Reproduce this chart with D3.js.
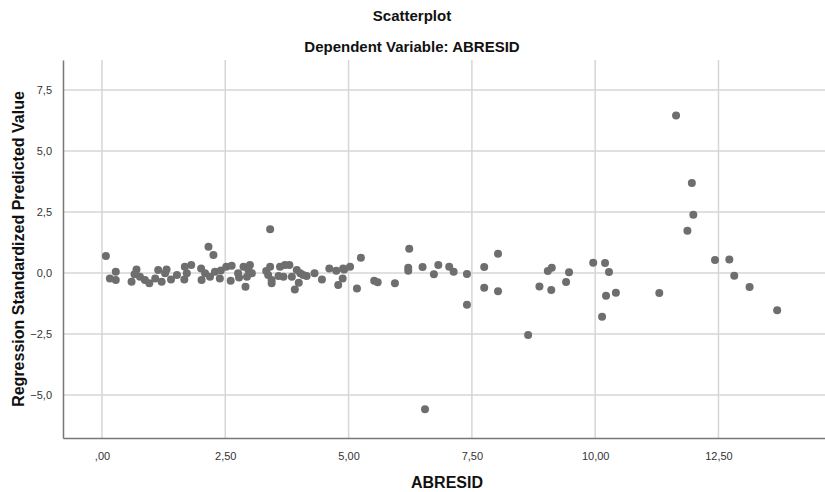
<!DOCTYPE html>
<html>
<head>
<meta charset="utf-8">
<script src="https://cdn.jsdelivr.net/npm/d3@7"></script>
<style>
  body { margin: 0; background: #fff; }
  svg { display: block; }
  .tick text { font-family: "Liberation Sans Narrow", "Arial Narrow", "Liberation Sans", sans-serif; font-size: 11px; fill: #333; }
</style>
</head>
<body>
<script>
// ABRESID (x) against standardized predicted value (y)
const abresid = [
  0.08, 0.28, 0.16, 0.28, 0.70, 0.66, 0.60, 0.77, 0.87, 0.96, 1.08, 1.14, 1.21, 1.28, 1.31, 1.40, 1.52, 1.67,
  1.68, 1.81, 1.72, 2.01, 2.02, 2.09, 2.16, 2.26, 2.19, 2.29, 2.39, 2.41, 2.52, 2.63, 2.61, 2.76, 2.78, 2.87,
  3.00, 2.97, 2.94, 3.04, 2.91, 3.41, 3.41, 3.37, 3.44, 3.44, 3.33, 3.61, 3.71, 3.80, 3.58, 3.68, 3.85, 3.95,
  4.02, 4.08, 3.99, 3.91, 4.15, 4.31, 4.46, 4.61, 4.75, 4.89, 4.88, 4.79, 4.91, 5.03, 5.25, 5.17, 5.52, 5.59,
  5.94, 6.23, 6.21, 6.21, 6.50, 6.73, 6.82, 7.04, 7.13, 7.40, 7.40, 7.75, 7.75, 8.03, 8.03, 6.55,
  8.64, 8.87, 9.04, 9.12, 9.11, 9.41, 9.47, 9.96, 10.20, 10.28, 10.14, 10.22, 10.42, 11.30,
  11.64, 11.96, 11.99, 11.87, 12.43, 12.72, 12.82, 13.13, 13.69
]
const predicted = [
  0.70, 0.05, -0.22, -0.29, 0.15, -0.05, -0.36, -0.15, -0.29, -0.42, -0.22, 0.12, -0.36, -0.01, 0.15, -0.26, -0.08, -0.26,
  0.26, 0.33, -0.01, 0.19, -0.29, -0.01, 1.08, 0.74, -0.15, 0.05, -0.22, 0.10, 0.26, 0.30, -0.32, -0.01, -0.18, 0.26,
  0.33, 0.12, -0.15, -0.01, -0.56, 1.79, 0.26, -0.08, -0.29, -0.42, 0.08, 0.26, 0.33, 0.33, -0.12, -0.15, -0.15, 0.12,
  -0.01, -0.08, -0.40, -0.67, -0.12, -0.01, -0.26, 0.19, 0.09, 0.19, -0.22, -0.49, 0.15, 0.26, 0.63, -0.63, -0.32, -0.38,
  -0.42, 1.00, 0.22, 0.09, 0.25, -0.05, 0.33, 0.26, 0.05, -0.04, -1.30, 0.25, -0.60, 0.79, -0.75, -5.58,
  -2.54, -0.55, 0.08, 0.22, -0.70, -0.37, 0.03, 0.42, 0.41, 0.04, -1.79, -0.93, -0.81, -0.82,
  6.46, 3.69, 2.39, 1.73, 0.53, 0.55, -0.11, -0.57, -1.52
]
const xTicks = [0, 2.5, 5, 7.5, 10, 12.5]
const yTicks = [-5, -2.5, 0, 2.5, 5, 7.5]

const w = 825, h = 492
const plotLeft = 63, plotRight = 826, plotTop = 60, plotBottom = 438

const svg = d3.select("body").append("svg")
  .attr("width", w)
  .attr("height", h)

const x = d3.scaleLinear().domain([-0.79, 14.68]).range([plotLeft, plotRight])
const y = d3.scaleLinear().domain([-6.76, 8.73]).range([plotBottom, plotTop])

const comma = d3.formatLocale({ decimal: ",", thousands: ".", grouping: [3], currency: ["", ""] })
const fmtX = v => v === 0 ? ",00" : comma.format(".2f")(v)
const fmtY = comma.format(".1f")

// grid
svg.append("g").selectAll("line").data(xTicks).join("line")
  .attr("x1", d => x(d)).attr("x2", d => x(d))
  .attr("y1", plotTop).attr("y2", plotBottom)
  .attr("stroke", "#d6d6d6").attr("stroke-width", 1.5)
svg.append("g").selectAll("line").data(yTicks).join("line")
  .attr("x1", plotLeft).attr("x2", plotRight)
  .attr("y1", d => y(d)).attr("y2", d => y(d))
  .attr("stroke", "#d6d6d6").attr("stroke-width", 1.5)

// axes
const xAxis = svg.append("g")
  .attr("transform", `translate(0,${plotBottom})`)
  .call(d3.axisBottom(x).tickValues(xTicks).tickFormat(fmtX).tickSize(0).tickPadding(14))
const yAxis = svg.append("g")
  .attr("transform", `translate(${plotLeft},0)`)
  .call(d3.axisLeft(y).tickValues(yTicks).tickFormat(fmtY).tickSize(0).tickPadding(11))
xAxis.select(".domain").attr("stroke", "#777").attr("stroke-width", 1.5)
yAxis.select(".domain").attr("stroke", "#777").attr("stroke-width", 1.5)

// points
svg.append("g").selectAll("circle")
  .data(abresid.map((v, i) => [v, predicted[i]]))
  .join("circle")
  .attr("cx", d => x(d[0]))
  .attr("cy", d => y(d[1]))
  .attr("r", 4)
  .attr("fill", "#6e6e6e")

// titles
const bold = t => t.attr("font-family", "Liberation Sans, Arial, sans-serif").attr("font-weight", "bold").attr("fill", "#111")
bold(svg.append("text").attr("x", 412).attr("y", 21).attr("text-anchor", "middle").attr("font-size", 15).text("Scatterplot"))
bold(svg.append("text").attr("x", 412).attr("y", 52).attr("text-anchor", "middle").attr("font-size", 15).text("Dependent Variable: ABRESID"))
bold(svg.append("text").attr("x", 447).attr("y", 488).attr("text-anchor", "middle").attr("font-size", 16).text("ABRESID"))
bold(svg.append("text")
  .attr("transform", `translate(24,${(plotTop + plotBottom) / 2}) rotate(-90)`)
  .attr("text-anchor", "middle").attr("font-size", 16)
  .text("Regression Standardized Predicted Value"))
</script>
</body>
</html>
